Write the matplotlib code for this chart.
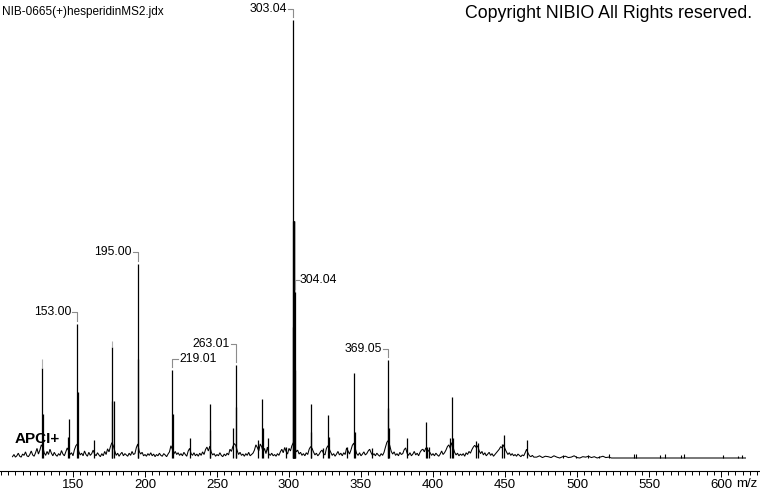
import numpy as np
import matplotlib
matplotlib.use("Agg")
import matplotlib.pyplot as plt
from matplotlib.ticker import MultipleLocator, FixedLocator

plt.rcParams['font.family'] = ['Liberation Sans', 'DejaVu Sans']

# ---------------- data ----------------
title_text = "NIB-0665(+)hesperidinMS2.jdx"
copyright_text = "Copyright NIBIO All Rights reserved."
ion_mode = "APCI+"
x_unit = "m/z"

# main peaks (m/z, relative intensity %)
peak_mz = [128.7, 129.0, 146.5, 146.9, 153.0, 153.2, 164.8, 177.1, 177.3, 178.6,
           194.8, 195.0, 219.0, 219.2, 231.5, 245.1, 245.3, 261.3, 263.0, 263.2,
           278.7, 281.5, 281.7, 285.6, 297.7, 302.6, 302.8, 303.04, 303.2, 303.4,
           303.7, 304.04, 304.3,
           315.3, 315.5, 323.6, 327.3, 327.5, 340.0, 345.3, 345.5, 357.4, 368.8,
           369.05, 369.3, 381.7, 395.3, 395.5, 397.5, 412.0, 413.4, 413.6, 429.9,
           431.3, 447.7, 449.3, 465.3]
peak_int = [20.5, 10.0, 4.8, 8.9, 30.7, 15.0, 4.0, 25.3, 13.0, 13.0,
            22.6, 44.3, 20.0, 10.0, 4.6, 12.3, 6.4, 6.8, 21.3, 11.7,
            4.0, 13.4, 6.8, 4.6, 2.6, 30.0, 54.0, 100.0, 54.0, 54.0,
            54.0, 38.0, 20.0,
            12.3, 6.0, 2.3, 9.8, 4.8, 2.6, 19.4, 6.0, 2.3, 11.4,
            22.3, 6.8, 4.6, 8.3, 2.5, 2.5, 4.6, 13.9, 4.5, 3.9,
            3.5, 3.2, 5.2, 4.0]

# faint grey tips above some peaks (m/z, from %, to %)
tip_mz = [128.7, 177.1]
tip_lo = [20.5, 25.3]
tip_hi = [22.7, 26.8]

# small isolated peaks in the high-mass region
minor_mz = [490.5, 499.0, 507.5, 515.0, 522.0, 539.5, 540.8, 557.8, 561.0,
            572.0, 574.5, 601.4, 611.6, 614.4]
minor_int = [0.6, 0.5, 0.6, 0.5, 0.9, 1.0, 0.8, 0.7, 0.8,
             0.7, 0.8, 0.6, 0.5, 0.7]

# baseline noise, one value per m/z from 108 to 470
noise_start = 108
noise = [
    0.3, 0.8, 0.2, 0.5, 1.1, 0.4, 0.2, 0.9, 0.6, 1.4, 0.5, 0.3, 0.8, 1.6, 0.7, 0.4, 1.2, 2.2, 0.9, 1.8,
    3.0, 2.5, 1.2, 0.6, 1.5, 0.8, 2.0, 1.1, 0.5, 1.3, 0.7, 0.4, 1.0, 0.6, 1.7, 0.9, 0.5, 1.4, 2.3, 1.6,
    0.8, 1.2, 0.5, 1.9, 2.8, 3.2, 1.5, 0.7, 1.1, 0.5, 1.6, 0.8, 0.4, 1.3, 0.6, 1.0, 1.8, 0.9, 0.5, 1.2,
    0.7, 0.3, 1.0, 0.5, 1.5, 0.8, 2.1, 1.4, 2.6, 3.5, 2.8, 1.6, 0.6, 1.1, 0.4, 0.9, 1.3, 0.5, 1.0, 0.7,
    0.4, 1.1, 0.6, 1.5, 0.8, 1.0, 2.4, 3.2, 1.5, 0.9, 1.3, 0.5, 0.8, 0.4, 1.0, 0.6, 1.2, 0.5, 0.9, 0.3,
    0.8, 0.5, 1.1, 0.6, 0.4, 1.0, 0.7, 0.3, 0.9, 1.4, 2.8, 2.0, 0.9, 1.5, 0.8, 1.2, 0.6, 1.0, 0.5, 1.3,
    0.8, 0.4, 1.6, 2.2, 1.0, 0.6, 1.2, 0.5, 0.9, 0.4, 1.1, 0.6, 1.4, 0.8, 1.9, 2.5, 1.6, 2.7, 1.3, 0.7,
    1.0, 0.4, 0.8, 0.5, 1.2, 0.6, 0.3, 0.9, 0.5, 1.1, 0.7, 2.0, 1.5, 2.6, 3.3, 2.9, 1.7, 0.8, 1.3, 0.6,
    0.9, 0.4, 1.0, 0.6, 1.3, 0.5, 0.8, 1.1, 1.8, 3.0, 2.4, 1.6, 3.2, 2.6, 1.4, 2.2, 1.0, 2.5, 0.9, 0.6,
    1.1, 0.5, 0.8, 0.4, 1.0, 0.6, 1.4, 2.0, 1.2, 2.4, 1.5, 0.9, 2.2, 1.6, 2.8, 3.5, 2.6, 1.4, 1.8, 0.9,
    1.3, 0.6, 1.0, 0.5, 1.2, 0.8, 2.0, 2.6, 2.2, 1.4, 0.7, 1.1, 0.5, 0.9, 1.5, 1.8, 1.0, 0.7, 2.2, 2.8,
    2.0, 1.3, 0.6, 1.0, 0.4, 0.9, 1.5, 0.7, 1.1, 0.5, 1.2, 0.8, 2.3, 1.6, 0.9, 1.8, 2.9, 3.4, 2.2, 1.0,
    0.6, 1.2, 0.5, 0.9, 1.4, 0.7, 1.0, 1.6, 2.0, 1.2, 0.6, 1.0, 0.5, 1.1, 0.7, 0.4, 1.0, 0.6, 1.3, 2.5,
    3.6, 4.0, 2.8, 1.5, 0.9, 1.4, 0.6, 1.0, 0.5, 1.3, 0.8, 1.0, 1.9, 2.3, 1.1, 0.6, 1.2, 0.5, 0.9, 1.5,
    0.7, 1.1, 0.5, 1.3, 1.8, 2.0, 1.4, 2.3, 2.0, 1.6, 1.2, 0.6, 1.0, 0.5, 1.1, 0.7, 0.4, 0.9, 1.6, 0.8,
    1.2, 1.8, 2.6, 3.0, 2.2, 3.5, 2.4, 1.3, 0.7, 1.1, 0.5, 0.9, 0.6, 1.0, 0.4, 1.2, 0.8, 1.5, 1.1, 1.9,
    2.5, 2.9, 2.4, 2.8, 1.7, 1.0, 1.5, 0.7, 1.2, 0.5, 0.9, 1.3, 0.6, 1.0, 0.4, 0.8, 1.2, 1.6, 2.0, 2.6,
    2.3, 3.0, 2.1, 1.4, 0.8, 1.2, 0.6, 1.0, 0.5, 0.8, 0.4, 0.9, 0.6, 0.3, 0.7, 0.5, 1.2, 2.0, 1.1, 0.5,
    0.3, 0.6, 0.2,
]
# low noise tail, one value every 2 m/z from 472 to 524, then flat to 617
tail_start = 472
tail = [0.2, 0.5, 0.1, 0.4, 0.3, 0.1, 0.5, 0.2, 0.0, 0.3, 0.4, 0.1, 0.2, 0.5,
        0.1, 0.0, 0.3, 0.2, 0.4, 0.1, 0.3, 0.0, 0.2, 0.4, 0.1, 0.2, 0.0]
spectrum_end = 617

# labelled peaks
label_mz = [303.04, 153.00, 195.00, 219.01, 263.01, 304.04, 369.05]
label_int = [100.0, 30.7, 44.3, 20.0, 21.3, 38.0, 22.3]
label_txt = ["303.04", "153.00", "195.00", "219.01", "263.01", "304.04", "369.05"]

major_ticks = [150, 200, 250, 300, 350, 400, 450, 500, 550, 600]

# ---------------- layout ----------------
W, H = 760, 492
fig = plt.figure(figsize=(W / 100, H / 100), dpi=100)
axis_y_px = 471
ax = fig.add_axes([0, (H - axis_y_px) / H, 1, axis_y_px / H])
px_per_mz = 1.44
x_left = 150 - 73 / px_per_mz
x_right = 150 + (W - 73) / px_per_mz
base_px, top_px = 458, 20
px_per_pct = (base_px - top_px) / 100.0
ax.set_xlim(x_left, x_right)
ax.set_ylim(-(axis_y_px - base_px) / px_per_pct, base_px / px_per_pct)

for s in ['top', 'left', 'right']:
    ax.spines[s].set_visible(False)
ax.spines['bottom'].set_linewidth(0.8)
ax.yaxis.set_visible(False)
ax.xaxis.set_major_locator(FixedLocator(major_ticks))
ax.xaxis.set_minor_locator(MultipleLocator(5))
ax.tick_params(axis='x', which='major', direction='out', length=4.5, width=0.7,
               labelsize=9.5, pad=1.0)
ax.tick_params(axis='x', which='minor', direction='out', length=2.6, width=0.7)
ax.set_xticklabels([str(t) for t in major_ticks])

# noise trace
nx = np.arange(noise_start, noise_start + len(noise))
tx = np.arange(tail_start, tail_start + 2 * len(tail), 2)
all_x = np.concatenate([nx, tx, [spectrum_end]])
all_y = np.concatenate([noise, tail, [0.0]])
ax.plot(all_x, all_y, color='black', lw=0.75, solid_joinstyle='miter')

# sticks
ax.vlines(peak_mz, 0, peak_int, color='black', lw=0.9)
ax.vlines(minor_mz, 0, minor_int, color='black', lw=0.8)
ax.vlines(tip_mz, tip_lo, tip_hi, color='#b0b0b0', lw=0.8)

# peak labels with brackets (offsets in pixels)
label_layout = {
    "303.04": ('left', 11, 5),
    "153.00": ('left', 12, 5),
    "195.00": ('left', 12, 5),
    "219.01": ('right', 11, 6),
    "263.01": ('left', 21, 5),
    "304.04": ('right', 12, 4),
    "369.05": ('left', 11, 5),
}
inv = ax.transData.inverted()
for mz, it, txt in zip(label_mz, label_int, label_txt):
    side, dy, w = label_layout[txt]
    px, py = ax.transData.transform((mz, it))
    sgn = -1 if side == 'left' else 1
    pts_disp = [(px, py + 3), (px, py + dy), (px + sgn * w, py + dy)]
    pts = inv.transform(pts_disp)
    ax.plot(pts[:, 0], pts[:, 1], color='#8c8c8c', lw=0.8)
    tx_, ty_ = inv.transform((px + sgn * (w + 1), py + dy))
    ax.text(tx_, ty_, txt, fontsize=8.8, ha='right' if side == 'left' else 'left',
            va='center', color='black')

# header texts
fig.text(2 / W, 1 - 12 / H, title_text, fontsize=8.5, ha='left', va='center')
fig.text(752 / W, 1 - 14 / H, copyright_text, fontsize=12.8, ha='right', va='center')
fig.text(15 / W, 1 - 439 / H, ion_mode, fontsize=11, fontweight='bold', ha='left', va='center')
fig.text(757 / W, 1 - 484 / H, x_unit, fontsize=9.5, ha='right', va='center')

fig.savefig("out.png", dpi=100)
